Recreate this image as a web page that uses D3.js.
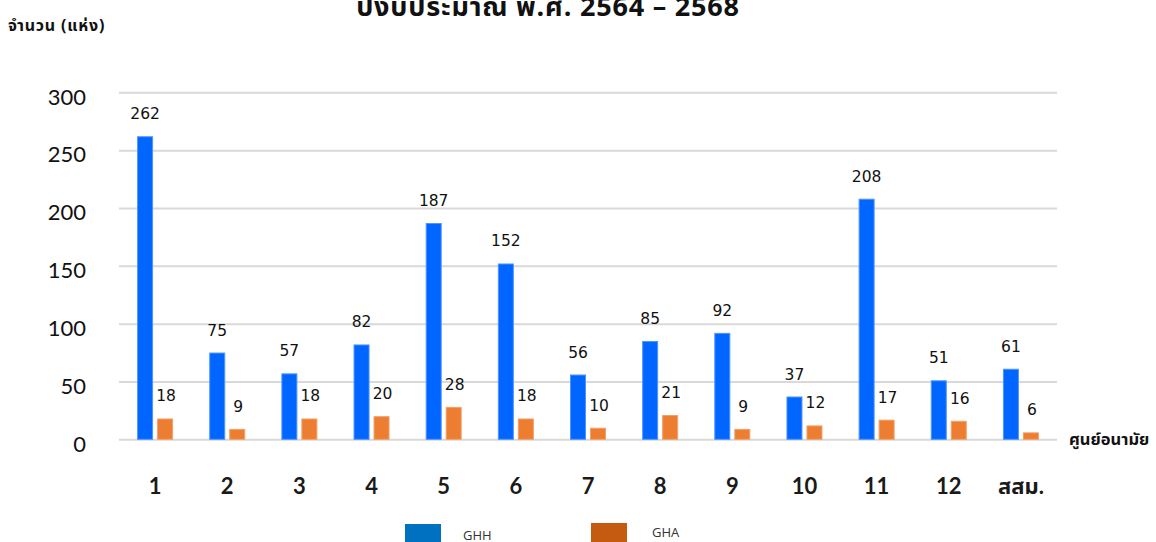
<!DOCTYPE html>
<html>
<head>
<meta charset="utf-8">
<script src="https://cdn.jsdelivr.net/npm/d3@7"></script>
<style>
  html, body { margin: 0; padding: 0; background: #ffffff; }
  svg { display: block; }
</style>
</head>
<body>
<svg id="chart" width="1156" height="542"></svg>
<script>
const categories = ["1","2","3","4","5","6","7","8","9","10","11","12","สสม."];
const ghhValues = [262, 75, 57, 82, 187, 152, 56, 85, 92, 37, 208, 51, 61];
const ghaValues = [18, 9, 18, 20, 28, 18, 10, 21, 9, 12, 17, 16, 6];
const seriesNames = ["GHH", "GHA"];
const yTicks = [0, 50, 100, 150, 200, 250, 300];
const titleText = "ปีงบประมาณ พ.ศ. 2564 – 2568";
const yAxisTitle = "จำนวน (แห่ง)";
const xAxisTitle = "ศูนย์อนามัย";

const barColors = { GHH: "#0066FF", GHA: "#ED7D31" };
const barStroke = { GHH: "#4d94ff", GHA: "#f3a06a" };
const legendColors = { GHH: "#0070C0", GHA: "#C55A11" };

const svg = d3.select("#chart");
const thaiFont = "'Noto Sans Thai', 'Noto Sans Thai UI', 'Noto Sans', 'DejaVu Sans', sans-serif";

const x = d3.scaleBand().domain(categories).range([119, 1057]).paddingInner(0).paddingOuter(0);
const x1 = d3.scaleBand().domain(seriesNames).range([x.bandwidth() / 2 - 18, x.bandwidth() / 2 + 18]).paddingInner(0.2).paddingOuter(0);
const y = d3.scaleLinear().domain([0, 300]).range([439.3, 92.3]);

// gridlines
const yAxis = d3.axisLeft(y).tickValues(yTicks).tickSize(-(1057 - 119)).tickFormat(d3.format("d"));
const gy = svg.append("g").attr("transform", "translate(119,0)").call(yAxis);
gy.select(".domain").remove();
gy.selectAll(".tick line").attr("stroke", "#d9d9d9").attr("stroke-width", 2);
gy.selectAll(".tick text")
  .attr("x", -33)
  .attr("dy", "0.72em")
  .attr("y", -4)
  .attr("fill", "#111")
  .style("font-family", "Lato, 'Open Sans', sans-serif")
  .style("font-size", "22px")
  .attr("text-anchor", "end");

// x axis labels
const xAxis = d3.axisBottom(x).tickSize(0);
const gx = svg.append("g").attr("transform", "translate(0,439.3)").call(xAxis);
gx.select(".domain").remove();
gx.selectAll(".tick text")
  .attr("y", 55)
  .attr("dy", 0)
  .attr("fill", "#1a1a1a")
  .style("font-family", "Lato, " + thaiFont)
  .style("font-size", "22px")
  .style("font-weight", "700");

// bars
const rows = categories.map((c, i) => ({ cat: c, GHH: ghhValues[i], GHA: ghaValues[i] }));
const groups = svg.append("g").selectAll("g.grp").data(rows).join("g")
  .attr("class", "grp")
  .attr("transform", d => `translate(${x(d.cat)},0)`);

groups.selectAll("rect").data(d => seriesNames.map(s => ({ s, v: d[s] }))).join("rect")
  .attr("x", d => x1(d.s) + 0.5)
  .attr("width", x1.bandwidth() - 1)
  .attr("y", d => y(d.v) + 0.5)
  .attr("height", d => y(0) - y(d.v) - 0.5)
  .attr("fill", d => barColors[d.s])
  .attr("stroke", d => barStroke[d.s])
  .attr("stroke-width", 1);

groups.selectAll("text.lbl").data(d => seriesNames.map(s => ({ s, v: d[s] }))).join("text")
  .attr("class", "lbl")
  .attr("x", d => x1(d.s) + x1.bandwidth() / 2 + (d.s === "GHA" ? 1 : 0))
  .attr("y", d => y(d.v) - 17)
  .attr("text-anchor", "middle")
  .attr("fill", "#111")
  .style("font-family", "'DejaVu Sans', Verdana, sans-serif")
  .style("font-size", "15.5px")
  .text(d => d.v);

// title
svg.append("text")
  .attr("x", 548).attr("y", 16)
  .attr("text-anchor", "middle")
  .attr("fill", "#111")
  .style("font-family", thaiFont)
  .style("font-size", "27px")
  .style("font-weight", "700")
  .style("letter-spacing", "0.8px")
  .text(titleText);

// y axis title
svg.append("text")
  .attr("x", 8).attr("y", 31)
  .attr("fill", "#111")
  .style("font-family", thaiFont)
  .style("font-size", "16px")
  .style("font-weight", "700")
  .style("letter-spacing", "0.8px")
  .text(yAxisTitle);

// x axis title
svg.append("text")
  .attr("x", 1069).attr("y", 445)
  .attr("fill", "#111")
  .style("font-family", thaiFont)
  .style("font-size", "16.5px")
  .style("font-weight", "700")
  .text(xAxisTitle);

// legend
const legend = [
  { s: "GHH", rx: 405, ry: 524, tx: 463, ty: 540 },
  { s: "GHA", rx: 591, ry: 523, tx: 652, ty: 537 }
];
const lg = svg.append("g").selectAll("g").data(legend).join("g");
lg.append("rect")
  .attr("x", d => d.rx).attr("y", d => d.ry)
  .attr("width", 36).attr("height", d => 542 - d.ry)
  .attr("fill", d => legendColors[d.s]);
lg.append("text")
  .attr("x", d => d.tx).attr("y", d => d.ty)
  .attr("fill", "#333")
  .style("font-family", "'Open Sans', 'DejaVu Sans', sans-serif")
  .style("font-size", "13px")
  .text(d => d.s);
</script>
</body>
</html>
